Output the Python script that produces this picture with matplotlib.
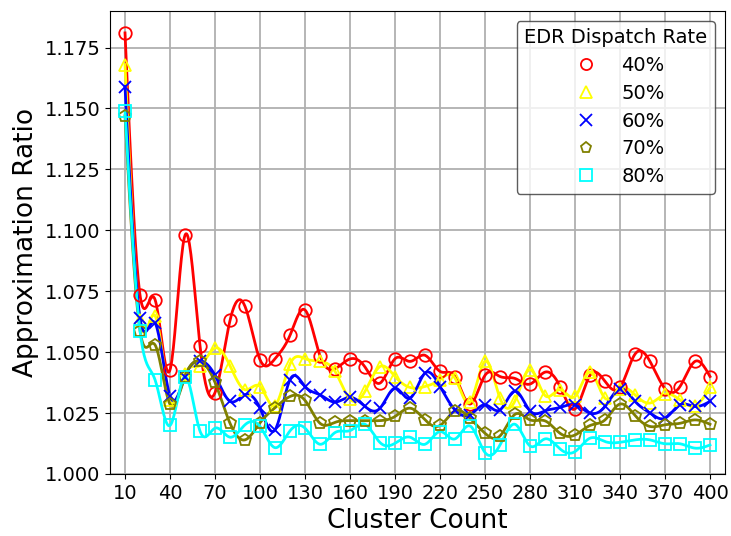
import numpy as np
import matplotlib
matplotlib.use("Agg")
import matplotlib.pyplot as plt
from matplotlib.lines import Line2D

cluster_counts = list(range(10, 401, 10))

rate_labels = ["40%", "50%", "60%", "70%", "80%"]

ratio_40 = [1.181, 1.0734, 1.0716, 1.0427, 1.098, 1.0526, 1.0334, 1.063, 1.0688, 1.0469,
            1.0473, 1.0569, 1.0673, 1.0485, 1.0432, 1.0472, 1.0439, 1.0373, 1.0473, 1.0462,
            1.0487, 1.0421, 1.0400, 1.0287, 1.0405, 1.0400, 1.0392, 1.0369, 1.0418, 1.0359,
            1.0267, 1.0405, 1.0380, 1.0355, 1.0492, 1.0462, 1.0350, 1.0359, 1.0462, 1.0400]

ratio_50 = [1.168, 1.063, 1.065, 1.0305, 1.041, 1.0445, 1.0517, 1.0444, 1.0346, 1.0359,
            1.0281, 1.0451, 1.0473, 1.0462, 1.0421, 1.0307, 1.0339, 1.0441, 1.0400, 1.0355,
            1.0359, 1.0387, 1.0393, 1.0295, 1.0462, 1.0311, 1.0300, 1.0428, 1.0322, 1.0346,
            1.0318, 1.0418, 1.0311, 1.0350, 1.0325, 1.0291, 1.0327, 1.0304, 1.0280, 1.0355]

ratio_60 = [1.159, 1.064, 1.062, 1.032, 1.040, 1.0465, 1.0405, 1.0298, 1.0325, 1.0270,
            1.0181, 1.0387, 1.0359, 1.0325, 1.0295, 1.0315, 1.0277, 1.0270, 1.0352, 1.0311,
            1.0414, 1.0359, 1.0263, 1.0243, 1.0284, 1.0263, 1.0340, 1.0259, 1.0259, 1.0273,
            1.0284, 1.0250, 1.0277, 1.0350, 1.0298, 1.0250, 1.0229, 1.0284, 1.0277, 1.0298]

ratio_70 = [1.147, 1.0588, 1.053, 1.0286, 1.040, 1.0462, 1.0376, 1.0208, 1.0140, 1.0210,
            1.0272, 1.0318, 1.0302, 1.0208, 1.0212, 1.0219, 1.0219, 1.0219, 1.0236, 1.0270,
            1.0222, 1.0199, 1.0259, 1.0229, 1.0167, 1.0156, 1.0245, 1.0222, 1.0218, 1.0167,
            1.0160, 1.0199, 1.0222, 1.0287, 1.0240, 1.0195, 1.0202, 1.0208, 1.0222, 1.0204]

ratio_80 = [1.149, 1.0588, 1.0387, 1.0199, 1.040, 1.0176, 1.0188, 1.0151, 1.0202, 1.0195,
            1.0108, 1.0177, 1.0188, 1.0122, 1.0170, 1.0178, 1.0204, 1.0129, 1.0126, 1.0151,
            1.0122, 1.0174, 1.0144, 1.0197, 1.0088, 1.0119, 1.0204, 1.0115, 1.0144, 1.0103,
            1.0092, 1.0147, 1.0133, 1.0130, 1.0140, 1.0140, 1.0124, 1.0124, 1.0106, 1.0119]

series = [ratio_40, ratio_50, ratio_60, ratio_70, ratio_80]
colors = ["red", "yellow", "blue", "olive", "cyan"]
markers = ["o", "^", "x", "p", "s"]
x_ticks = list(range(10, 401, 30))


def natural_cubic_spline(x, y, xs):
    x = np.asarray(x, float)
    y = np.asarray(y, float)
    n = len(x)
    h = np.diff(x)
    A = np.zeros((n, n))
    b = np.zeros(n)
    A[0, 0] = 1.0
    A[-1, -1] = 1.0
    for i in range(1, n - 1):
        A[i, i - 1] = h[i - 1]
        A[i, i] = 2 * (h[i - 1] + h[i])
        A[i, i + 1] = h[i]
        b[i] = 3 * ((y[i + 1] - y[i]) / h[i] - (y[i] - y[i - 1]) / h[i - 1])
    c = np.linalg.solve(A, b)
    bcoef = np.zeros(n - 1)
    d = np.zeros(n - 1)
    for i in range(n - 1):
        bcoef[i] = (y[i + 1] - y[i]) / h[i] - h[i] * (2 * c[i] + c[i + 1]) / 3
        d[i] = (c[i + 1] - c[i]) / (3 * h[i])
    idx = np.clip(np.searchsorted(x, xs) - 1, 0, n - 2)
    dx = xs - x[idx]
    return y[idx] + bcoef[idx] * dx + c[idx] * dx ** 2 + d[idx] * dx ** 3


fig = plt.figure(figsize=(7.31, 5.36), dpi=100)
ax = fig.add_axes([0.1505, 0.1157, 0.9918 - 0.1505, 0.9795 - 0.1157])

xs = np.linspace(cluster_counts[0], cluster_counts[-1], 800)
handles = []
for vals, col, mk, lab in zip(series, colors, markers, rate_labels):
    ys = natural_cubic_spline(cluster_counts, vals, xs)
    ax.plot(xs, ys, color=col, linewidth=2, zorder=2)
    ax.plot(cluster_counts, vals, linestyle="none", marker=mk, markersize=9,
            markerfacecolor="none", markeredgecolor=col, markeredgewidth=1.3, zorder=3)
    handles.append(Line2D([], [], linestyle="none", marker=mk, markersize=8,
                          markerfacecolor="none", markeredgecolor=col,
                          markeredgewidth=1.3, label=lab))

ax.set_xlim(0, 410)
ax.set_ylim(1.0, 1.19)
ax.set_xticks(x_ticks)
ax.set_yticks(np.arange(1.0, 1.176, 0.025))
ax.yaxis.set_major_formatter(matplotlib.ticker.FormatStrFormatter("%.3f"))
ax.tick_params(labelsize=14)
ax.grid(True, color="#b0b0b0", linewidth=1.3)
ax.set_axisbelow(True)
ax.set_xlabel("Cluster Count", fontsize=19)
ax.set_ylabel("Approximation Ratio", fontsize=19)

leg = ax.legend(handles=handles, title="EDR Dispatch Rate", loc="upper right",
                fontsize=14, title_fontsize=14, framealpha=0.8, edgecolor="#333333",
                borderaxespad=0.5, labelspacing=0.45)

fig.savefig("out.png", dpi=100)
